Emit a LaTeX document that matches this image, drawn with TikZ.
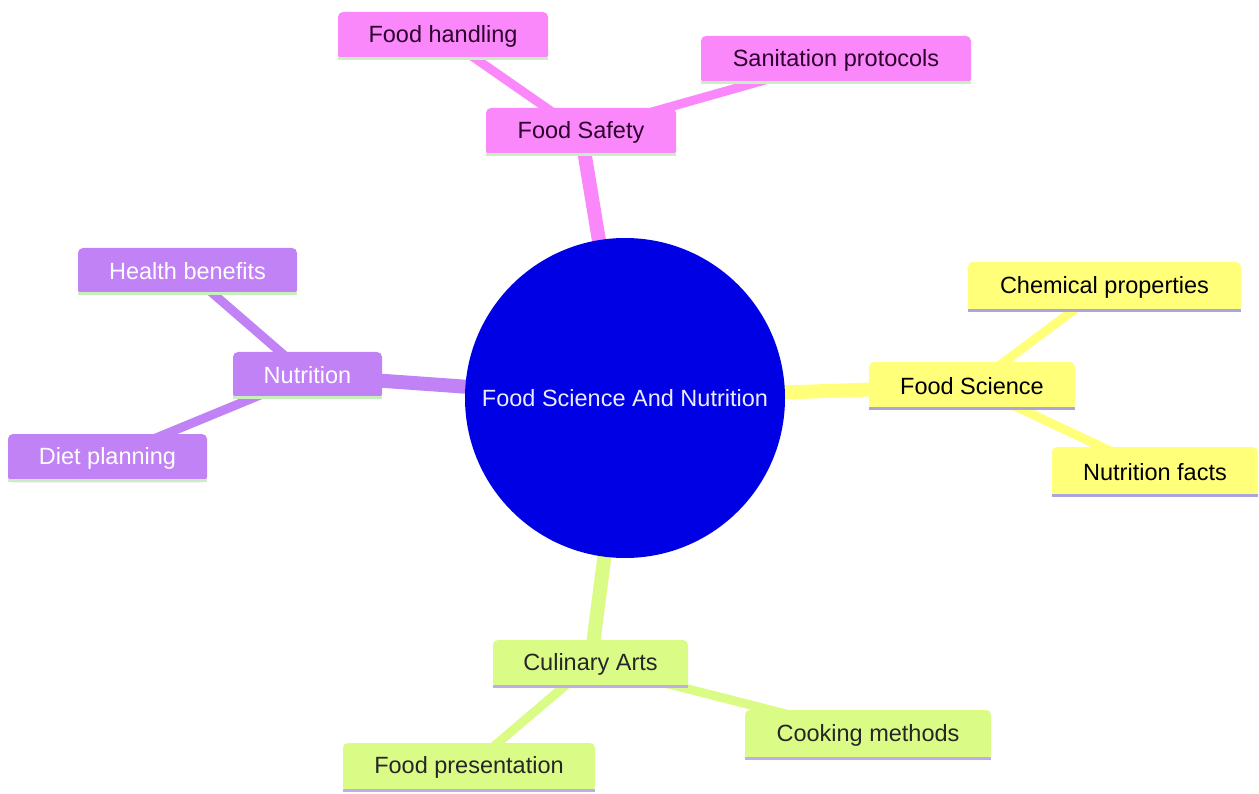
\documentclass[tikz,border=0pt]{standalone}
\usepackage{fontspec}
\setmainfont{Liberation Sans}
\usetikzlibrary{backgrounds}
\definecolor{cblue}{RGB}{0,0,228}
\definecolor{cpink}{RGB}{250,136,250}
\definecolor{cpurple}{RGB}{192,130,245}
\definecolor{cyellow}{RGB}{255,255,122}
\definecolor{cgreen}{RGB}{218,252,134}
\definecolor{lgreen}{RGB}{200,240,190}
\definecolor{lavy}{RGB}{170,165,225}
\definecolor{lavg}{RGB}{190,172,235}
\definecolor{pinktext}{RGB}{45,0,45}
\tikzset{
  box/.style={rectangle, rounded corners=5pt, inner sep=0pt, font=\fontsize{23.5}{28}\selectfont},
  pinkbox/.style={box, fill=cpink, text=pinktext},
  purplebox/.style={box, fill=cpurple, text=white},
  yellowbox/.style={box, fill=cyellow, text=black},
  greenbox/.style={box, fill=cgreen, text=black!85},
  rootnode/.style={circle, fill=cblue, text=white!92!blue, minimum size=320pt, inner sep=0pt, font=\fontsize{23.5}{28}\selectfont},
  mainedge/.style={line width=14pt},
  subedge/.style={line width=9pt},
}
\newcommand{\bline}[2]{\draw[line width=3pt, #2] ([yshift=1.5pt]#1.south west) -- ([yshift=1.5pt]#1.south east);}
\begin{document}
\begin{tikzpicture}[x=1pt,y=-1pt]
\useasboundingbox (0,0) rectangle (1259,794);
\node[rootnode] (root) at (625,398) {Food Science And Nutrition};
% Food Safety branch
\node[pinkbox, minimum width=190pt, minimum height=48pt] (fs) at (581,132) {Food Safety};
\node[pinkbox, minimum width=210pt, minimum height=48pt] (fh) at (443,36) {Food handling};
\node[pinkbox, minimum width=270pt, minimum height=48pt] (sp) at (836,60) {Sanitation protocols};
% Food Science branch
\node[yellowbox, minimum width=206pt, minimum height=48pt] (fsc) at (972,386) {Food Science};
\node[yellowbox, minimum width=273pt, minimum height=50pt] (cp) at (1104.5,287) {Chemical properties};
\node[yellowbox, minimum width=206pt, minimum height=50pt] (nf) at (1155,472) {Nutrition facts};
% Nutrition branch
\node[purplebox, minimum width=149pt, minimum height=47pt] (nu) at (307.5,375.5) {Nutrition};
\node[purplebox, minimum width=219pt, minimum height=47pt] (hb) at (187.5,271.5) {Health benefits};
\node[purplebox, minimum width=199pt, minimum height=48pt] (dp) at (107.5,458) {Diet planning};
% Culinary Arts branch
\node[greenbox, minimum width=195pt, minimum height=48pt] (ca) at (590.5,664) {Culinary Arts};
\node[greenbox, minimum width=246pt, minimum height=50pt] (cm) at (868,735) {Cooking methods};
\node[greenbox, minimum width=252pt, minimum height=49pt] (fp) at (469,767.5) {Food presentation};
% bottom lines
\bline{fs}{lgreen}
\bline{fh}{lgreen}
\bline{sp}{lgreen}
\bline{nu}{lgreen}
\bline{hb}{lgreen}
\bline{dp}{lgreen}
\bline{fsc}{lavy}
\bline{cp}{lavy}
\bline{nf}{lavy}
\bline{ca}{lavg}
\bline{cm}{lavg}
\bline{fp}{lavg}
\begin{pgfonlayer}{background}
\fill[white] (0,0) rectangle (1259,794);
\draw[mainedge, cpink] (root.center) -- (fs.center);
\draw[mainedge, cyellow] (root.center) -- (fsc.center);
\draw[mainedge, cpurple] (root.center) -- (nu.center);
\draw[mainedge, cgreen] (root.center) -- (ca.center);
\draw[subedge, cpink] (fs.center) -- (fh.center);
\draw[subedge, cpink] (fs.center) -- (sp.center);
\draw[subedge, cyellow] (fsc.center) -- (cp.center);
\draw[subedge, cyellow] (fsc.center) -- (nf.center);
\draw[subedge, cpurple] (nu.center) -- (hb.center);
\draw[subedge, cpurple] (nu.center) -- (dp.center);
\draw[subedge, cgreen] (ca.center) -- (cm.center);
\draw[subedge, cgreen] (ca.center) -- (fp.center);
\end{pgfonlayer}
\end{tikzpicture}
\end{document}
